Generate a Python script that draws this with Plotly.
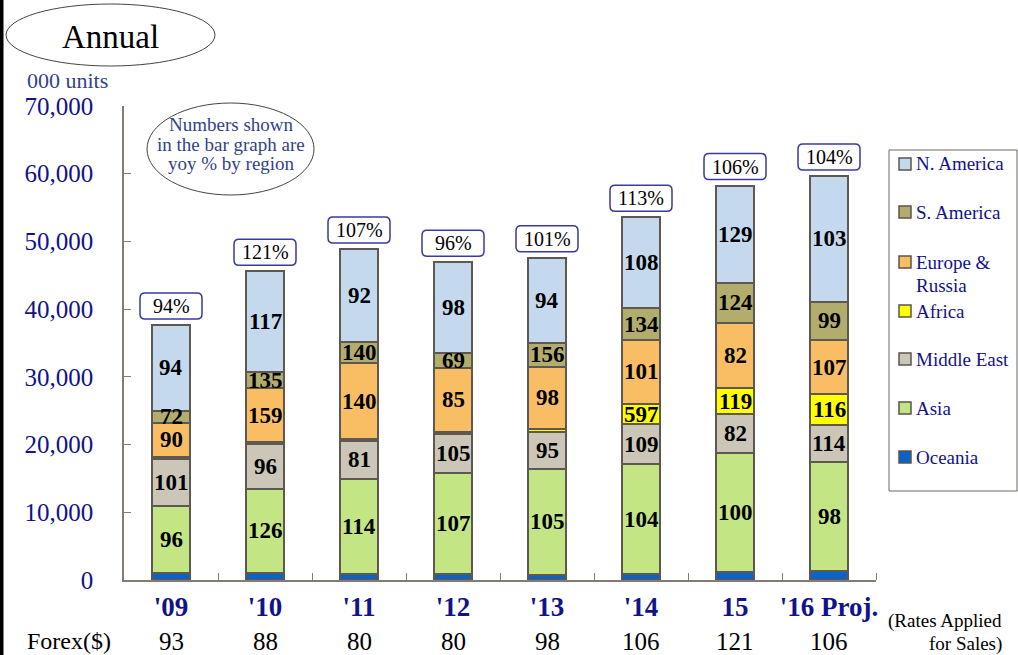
import plotly.graph_objects as go

# ---- data (000 units) ----
years = ["'09", "'10", "'11", "'12", "'13", "'14", "15", "'16 Proj."]
forex = [93, 88, 80, 80, 98, 106, 121, 106]
total_yoy = [94, 121, 107, 96, 101, 113, 106, 104]

oceania = [1080, 1080, 890, 890, 790, 890, 1130, 1330]
asia = [9850, 12320, 14080, 14960, 15650, 16200, 17580, 16150]
middle_east = [6940, 6690, 5530, 5670, 5360, 5910, 5810, 5420]
africa = [300, 340, 370, 380, 550, 3000, 3800, 4530]
europe_russia = [5070, 7870, 11130, 9370, 9150, 9450, 9600, 8020]
s_america = [1720, 2380, 3200, 2310, 3550, 4680, 5980, 5650]
n_america = [12710, 14920, 13700, 13350, 12550, 13450, 14350, 18570]

# yoy % by region shown inside the segments (None = not labelled)
oceania_yoy = [None] * 8
asia_yoy = [96, 126, 114, 107, 105, 104, 100, 98]
middle_east_yoy = [101, 96, 81, 105, 95, 109, 82, 114]
africa_yoy = [None, None, None, None, None, 597, 119, 116]
europe_russia_yoy = [90, 159, 140, 85, 98, 101, 82, 107]
s_america_yoy = [72, 135, 140, 69, 156, 134, 124, 99]
n_america_yoy = [94, 117, 92, 98, 94, 108, 129, 103]

y_ticks = [0, 10000, 20000, 30000, 40000, 50000, 60000, 70000]

# stacking order bottom -> top
regions = [
    ("Oceania", oceania, oceania_yoy, "#0a64c8"),
    ("Asia", asia, asia_yoy, "#c3e584"),
    ("Middle East", middle_east, middle_east_yoy, "#ccc6b8"),
    ("Africa", africa, africa_yoy, "#ffff00"),
    ("Europe & Russia", europe_russia, europe_russia_yoy, "#f9bd64"),
    ("S. America", s_america, s_america_yoy, "#b3ad6d"),
    ("N. America", n_america, n_america_yoy, "#c5d9ee"),
]

SERIF = "Liberation Serif, Times New Roman, serif"
NAVY = "#12128a"
SLATE = "#33428c"
AXIS = "#857b72"
EDGE = "#5e5850"

W, H = 1018, 655
L, R, T, B = 124, 876, 106, 580


def px(x):
    return (x - L) / (R - L)


def py(y):
    return (B - y) / (B - T)


def note(x, y, text, size, color, xanchor="center", xref="paper"):
    """Free text placed by page pixel position."""
    return dict(x=x if xref == "x" else px(x), y=py(y), xref=xref,
                yref="paper", xanchor=xanchor, yanchor="middle",
                text=text, showarrow=False,
                font=dict(family=SERIF, size=size, color=color))


xpos = list(range(len(years)))

fig = go.Figure()
annotations = []
shapes = []

base = [0] * len(years)
for name, vals, yoy, color in regions:
    fig.add_trace(go.Bar(
        x=xpos, y=vals, name=name,
        marker=dict(color=color, line=dict(color=EDGE, width=2)),
        showlegend=False, hoverinfo="y+name",
    ))
    for i, (v, lab) in enumerate(zip(vals, yoy)):
        if lab is not None:
            annotations.append(dict(
                x=xpos[i], y=base[i] + v / 2, xref="x", yref="y",
                xanchor="center", yanchor="middle",
                text=f"<b>{lab}</b>", showarrow=False,
                font=dict(family=SERIF, size=23, color="black"),
            ))
        base[i] += v

# total yoy % in rounded boxes above each bar
for i, pct in enumerate(total_yoy):
    shapes.append(dict(
        type="path", xref="x", yref="y",
        xsizemode="pixel", ysizemode="pixel",
        xanchor=xpos[i], yanchor=base[i],
        path="M -26,6 L 26,6 Q 31,6 31,11 L 31,27 Q 31,32 26,32 L -26,32 "
             "Q -31,32 -31,27 L -31,11 Q -31,6 -26,6 Z",
        line=dict(color="#3a3aa0", width=1.5), fillcolor="white",
    ))
    annotations.append(dict(
        x=xpos[i], y=base[i], xref="x", yref="y", yshift=19,
        xanchor="center", yanchor="middle",
        text=f"{pct}%", showarrow=False,
        font=dict(family=SERIF, size=20, color="black"),
    ))

# forex row
annotations.append(note(25, 641, "Forex($)", 24, "black", xanchor="left"))
for i, fx in enumerate(forex):
    annotations.append(note(xpos[i], 641, str(fx), 25, "black", xref="x"))
annotations.append(note(1004, 621, "(Rates Applied", 19, "black", xanchor="right"))
annotations.append(note(1004, 644, "for Sales)", 19, "black", xanchor="right"))

# title ellipse
shapes.append(dict(type="circle", xref="paper", yref="paper",
                   x0=px(6), x1=px(215), y0=py(66), y1=py(4),
                   line=dict(color="#444444", width=1)))
annotations.append(note(110, 37, "Annual", 33, "black"))

# unit label
annotations.append(note(25, 80, "000 units", 22, SLATE, xanchor="left"))

# note ellipse
shapes.append(dict(type="circle", xref="paper", yref="paper",
                   x0=px(147), x1=px(314), y0=py(195), y1=py(103),
                   line=dict(color="#444444", width=1)))
for txt, yy in [("Numbers shown", 125), ("in the bar graph are", 144),
                ("yoy % by region", 163)]:
    annotations.append(note(231, yy, txt, 19, SLATE))

# legend box
shapes.append(dict(type="rect", xref="paper", yref="paper",
                   x0=px(889), x1=px(1017), y0=py(491), y1=py(150),
                   line=dict(color="#6e665e", width=1), fillcolor="white"))
legend_rows = [
    ("N. America", 164), ("S. America", 212), ("Europe &<br>Russia", 262),
    ("Africa", 311), ("Middle East", 359), ("Asia", 408), ("Oceania", 457),
]
colors_by_name = {r[0]: r[3] for r in regions}
legend_keys = ["N. America", "S. America", "Europe & Russia", "Africa",
               "Middle East", "Asia", "Oceania"]
for key, (label, yy) in zip(legend_keys, legend_rows):
    shapes.append(dict(type="rect", xref="paper", yref="paper",
                       x0=px(899), x1=px(911), y0=py(yy + 6), y1=py(yy - 6),
                       line=dict(color="#5a5550", width=1.5),
                       fillcolor=colors_by_name[key]))
    for k, ln in enumerate(label.split("<br>")):
        annotations.append(note(914, yy + 23 * k, ln, 19, NAVY, xanchor="left"))

# black rule on the left edge
shapes.append(dict(type="rect", xref="paper", yref="paper",
                   x0=px(0), x1=px(3.5), y0=py(H), y1=py(0),
                   line=dict(width=0), fillcolor="black"))

fig.update_layout(
    width=W, height=H, autosize=False,
    margin=dict(l=L, r=W - R, t=T, b=H - B, pad=0, autoexpand=False),
    paper_bgcolor="white", plot_bgcolor="white",
    barmode="stack", bargap=0.595,
    showlegend=False,
    annotations=annotations, shapes=shapes,
    xaxis=dict(
        range=[-0.5, len(years) - 0.5], automargin=False,
        showline=True, linecolor=AXIS, linewidth=1.5,
        tickmode="array", tickvals=xpos,
        ticktext=[f"<b>{y}</b>" for y in years], tickangle=0,
        ticks="",
        minor=dict(tickmode="array",
                   tickvals=[i + 0.5 for i in xpos],
                   ticks="inside", ticklen=7, tickcolor=AXIS, tickwidth=1),
        tickfont=dict(family=SERIF, size=27, color=NAVY),
        ticklabelstandoff=2, showgrid=False, zeroline=False,
    ),
    yaxis=dict(
        range=[0, 70000], automargin=False, tickvals=y_ticks, tickformat=",",
        showline=True, linecolor=AXIS, linewidth=1.5,
        ticks="inside", ticklen=7, tickcolor=AXIS,
        tickfont=dict(family=SERIF, size=25, color=NAVY),
        ticklabelstandoff=24, showgrid=False, zeroline=False,
    ),
)

fig.write_html("out.html")
